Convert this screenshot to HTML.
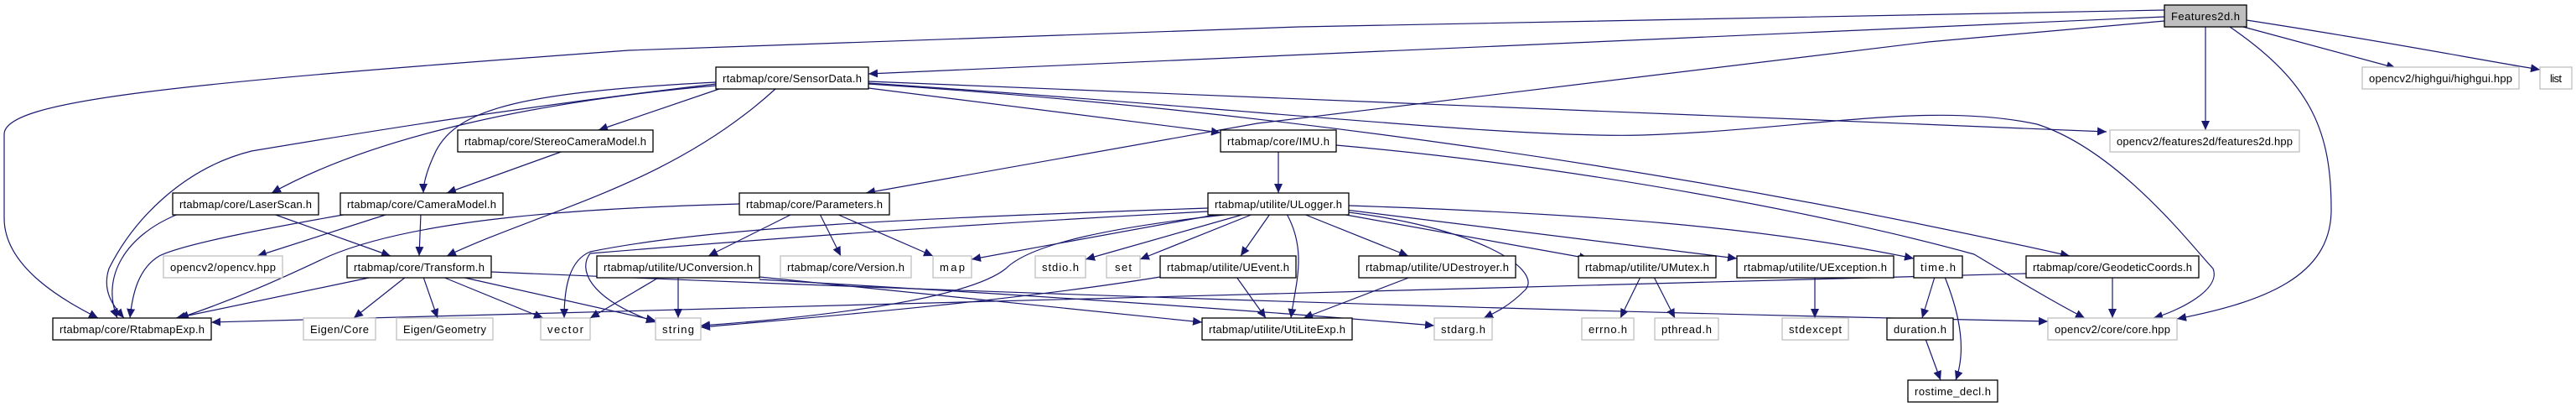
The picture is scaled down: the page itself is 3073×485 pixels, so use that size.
<!DOCTYPE html>
<html><head><meta charset="utf-8"><style>
html,body{margin:0;padding:0;background:#fff;}
svg{display:block}
text{font-family:"Liberation Sans",sans-serif;font-size:13px;fill:#000;}
.n{fill:#fff;stroke:#000;stroke-width:1.3}
.g{fill:#fff;stroke:#bfbfbf;stroke-width:1.3}
.e{fill:none;stroke:#191970;stroke-width:1.2}
</style></head><body>
<svg width="3073" height="485" viewBox="0 0 3073 485" xmlns="http://www.w3.org/2000/svg">
<defs><marker id="a" markerUnits="userSpaceOnUse" markerWidth="12" markerHeight="10" refX="11" refY="5" orient="auto"><path d="M0,0 L11,5 L0,10 Z" fill="#191970"/></marker></defs>
<g class="e" marker-end="url(#a)">
<path d="M2582,12 L1550,32 L750,60 C200,100 5,120 5,160 L5,260 C5,320 80,360 117,379"/>
<path d="M2582,20 L1036,88"/>
<path d="M2582,25 L2300,50 L1500,147 L1033,230"/>
<path d="M2631,32 L2631,155"/>
<path d="M2660,32 C2760,100 2781,160 2781,250 C2781,330 2700,360 2597,380"/>
<path d="M2676,32 L2858,81"/>
<path d="M2680,24 C2850,50 2950,70 3030,83"/>
<path d="M854,100 C600,130 420,160 300,180 C220,200 160,260 130,320 C120,350 140,370 148,379"/>
<path d="M854,102 C650,120 450,160 324,230"/>
<path d="M854,98 C620,110 546,130 520,180 C508,205 505,220 505,230"/>
<path d="M858,106 L714,155"/>
<path d="M925,106 C800,220 650,250 533,305"/>
<path d="M1036,105 L1456,158"/>
<path d="M1036,97 L2513,157"/>
<path d="M1036,100 C1500,130 2000,200 2469,305"/>
<path d="M1036,99 C1500,130 1800,165 1959,161 C2150,155 2300,120 2430,148 C2530,180 2620,300 2640,320 C2650,345 2600,370 2569,379"/>
<path d="M672,180 L533,230"/>
<path d="M213,255 C150,280 120,330 140,379"/>
<path d="M326,255 L466,305"/>
<path d="M415,255 C330,270 220,290 190,305 C165,320 158,350 155,379"/>
<path d="M463,255 L307,305"/>
<path d="M502,255 L500,305"/>
<path d="M445,330 L210,379"/>
<path d="M484,330 L422,379"/>
<path d="M505,330 L522,379"/>
<path d="M528,330 L648,379"/>
<path d="M550,330 L782,382"/>
<path d="M586,324 C1200,350 1800,370 2443,383"/>
<path d="M882,243 C700,248 500,260 393,305 C360,320 300,350 214,379"/>
<path d="M945,255 L845,305"/>
<path d="M978,255 L1003,305"/>
<path d="M998,255 L1113,305"/>
<path d="M1441,248 C1100,260 850,270 704,300 C680,310 673,340 673,379"/>
<path d="M1441,252 C1100,270 850,290 704,302 C690,320 700,355 782,384"/>
<path d="M1455,255 L1159,309"/>
<path d="M1485,255 L1295,309"/>
<path d="M1495,255 L1360,309"/>
<path d="M1515,255 L1480,305"/>
<path d="M1535,255 C1560,300 1545,340 1540,379"/>
<path d="M1555,255 L1680,305"/>
<path d="M1600,252 C1760,270 1840,320 1820,345 C1800,365 1785,372 1770,379"/>
<path d="M1600,255 L1895,308"/>
<path d="M1605,250 L2072,308"/>
<path d="M1609,245 C1900,255 2100,270 2283,308"/>
<path d="M1470,255 C1330,270 1230,290 1200,320 C1150,360 950,380 836,388"/>
<path d="M787,330 L704,379"/>
<path d="M809,330 L809,379"/>
<path d="M906,330 L1434,384"/>
<path d="M906,333 C1200,350 1500,370 1711,388"/>
<path d="M1384,330 C1200,360 950,380 836,390"/>
<path d="M1475,330 L1510,379"/>
<path d="M1683,330 L1555,379"/>
<path d="M1957,330 L1933,379"/>
<path d="M1973,330 L1998,379"/>
<path d="M2165,330 L2165,379"/>
<path d="M2308,330 L2293,379"/>
<path d="M2320,330 C2340,380 2345,420 2333,453"/>
<path d="M2297,404 L2315,453"/>
<path d="M2520,330 L2520,379"/>
<path d="M2417,326 C1500,345 800,365 252,384"/>
<path d="M1525,180 L1525,230"/>
<path d="M1594,173 C1900,200 2200,260 2355,303 C2400,330 2450,360 2487,379"/>
</g>
<g>
<rect x="2582" y="6" width="98" height="26" fill="#bfbfbf" stroke="#000" stroke-width="1.3"/><text x="2590" y="24" textLength="82">Features2d.h</text>
<rect class="n" x="854" y="80" width="182" height="26"/><text x="862" y="98" textLength="166">rtabmap/core/SensorData.h</text>
<rect class="g" x="2818" y="80" width="187" height="26"/><text x="2826" y="98" textLength="171">opencv2/highgui/highgui.hpp</text>
<rect class="g" x="3030" y="80" width="38" height="26"/><text x="3042" y="98" textLength="14">list</text>
<rect class="n" x="546" y="155" width="233" height="26"/><text x="554" y="173" textLength="217">rtabmap/core/StereoCameraModel.h</text>
<rect class="n" x="1456" y="155" width="138" height="26"/><text x="1464" y="173" textLength="122">rtabmap/core/IMU.h</text>
<rect class="g" x="2517" y="155" width="226" height="26"/><text x="2525" y="173" textLength="210">opencv2/features2d/features2d.hpp</text>
<rect class="n" x="206" y="230" width="174" height="26"/><text x="214" y="248" textLength="158">rtabmap/core/LaserScan.h</text>
<rect class="n" x="406" y="230" width="194" height="26"/><text x="414" y="248" textLength="178">rtabmap/core/CameraModel.h</text>
<rect class="n" x="882" y="230" width="179" height="26"/><text x="890" y="248" textLength="163">rtabmap/core/Parameters.h</text>
<rect class="n" x="1441" y="230" width="168" height="26"/><text x="1449" y="248" textLength="152">rtabmap/utilite/ULogger.h</text>
<rect class="g" x="195" y="305" width="142" height="26"/><text x="203" y="323" textLength="126">opencv2/opencv.hpp</text>
<rect class="n" x="414" y="305" width="172" height="26"/><text x="422" y="323" textLength="156">rtabmap/core/Transform.h</text>
<rect class="n" x="712" y="305" width="194" height="26"/><text x="720" y="323" textLength="178">rtabmap/utilite/UConversion.h</text>
<rect class="g" x="931" y="305" width="156" height="26"/><text x="939" y="323" textLength="140">rtabmap/core/Version.h</text>
<rect class="g" x="1113" y="305" width="46" height="26"/><text x="1121" y="323" textLength="30">map</text>
<rect class="g" x="1235" y="305" width="60" height="26"/><text x="1243" y="323" textLength="44">stdio.h</text>
<rect class="g" x="1320" y="305" width="40" height="26"/><text x="1330" y="323" textLength="20">set</text>
<rect class="n" x="1384" y="305" width="162" height="26"/><text x="1392" y="323" textLength="146">rtabmap/utilite/UEvent.h</text>
<rect class="n" x="1621" y="305" width="187" height="26"/><text x="1629" y="323" textLength="171">rtabmap/utilite/UDestroyer.h</text>
<rect class="n" x="1883" y="305" width="164" height="26"/><text x="1891" y="323" textLength="148">rtabmap/utilite/UMutex.h</text>
<rect class="n" x="2072" y="305" width="187" height="26"/><text x="2080" y="323" textLength="171">rtabmap/utilite/UException.h</text>
<rect class="n" x="2283" y="305" width="58" height="26"/><text x="2291" y="323" textLength="42">time.h</text>
<rect class="n" x="2417" y="305" width="206" height="26"/><text x="2425" y="323" textLength="190">rtabmap/core/GeodeticCoords.h</text>
<rect class="n" x="63" y="379" width="189" height="26"/><text x="71" y="397" textLength="173">rtabmap/core/RtabmapExp.h</text>
<rect class="g" x="362" y="379" width="86" height="26"/><text x="370" y="397" textLength="70">Eigen/Core</text>
<rect class="g" x="473" y="379" width="115" height="26"/><text x="481" y="397" textLength="99">Eigen/Geometry</text>
<rect class="g" x="645" y="379" width="59" height="26"/><text x="653" y="397" textLength="43">vector</text>
<rect class="g" x="782" y="379" width="54" height="26"/><text x="790" y="397" textLength="38">string</text>
<rect class="n" x="1434" y="379" width="179" height="26"/><text x="1442" y="397" textLength="163">rtabmap/utilite/UtiLiteExp.h</text>
<rect class="g" x="1711" y="379" width="69" height="26"/><text x="1719" y="397" textLength="53">stdarg.h</text>
<rect class="g" x="1887" y="379" width="62" height="26"/><text x="1895" y="397" textLength="46">errno.h</text>
<rect class="g" x="1974" y="379" width="76" height="26"/><text x="1982" y="397" textLength="60">pthread.h</text>
<rect class="g" x="2126" y="379" width="79" height="26"/><text x="2134" y="397" textLength="63">stdexcept</text>
<rect class="n" x="2251" y="379" width="79" height="26"/><text x="2259" y="397" textLength="63">duration.h</text>
<rect class="g" x="2443" y="379" width="154" height="26"/><text x="2451" y="397" textLength="138">opencv2/core/core.hpp</text>
<rect class="n" x="2276" y="453" width="107" height="26"/><text x="2284" y="471" textLength="91">rostime_decl.h</text>
</g>
</svg>
</body></html>
